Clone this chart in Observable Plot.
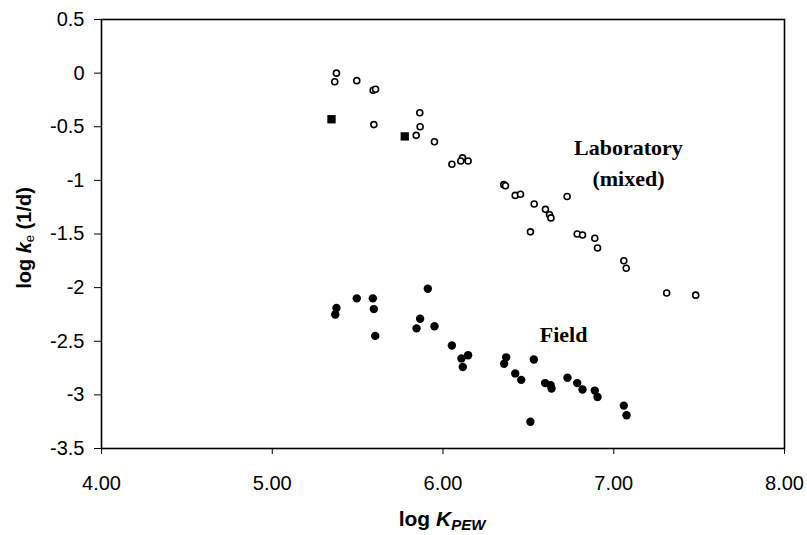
<!DOCTYPE html>
<html>
<head>
<meta charset="utf-8">
<script src="https://cdn.jsdelivr.net/npm/d3@7"></script>
<script src="https://cdn.jsdelivr.net/npm/@observablehq/plot@0.6"></script>
<style>
  html, body { margin: 0; padding: 0; background: #fff; }
  #chart svg { display: block; }
</style>
</head>
<body>
<div id="chart"></div>
<script>
// Laboratory (mixed) elimination rate constants: open circles
const labLogK = [5.376, 5.366, 5.495, 5.591, 5.605, 5.595, 5.864, 5.866, 5.843, 5.950,
                 6.052, 6.114, 6.104, 6.147, 6.356, 6.366, 6.423, 6.454, 6.534, 6.600,
                 6.624, 6.632, 6.727, 6.512, 6.786, 6.817, 6.889, 6.905, 7.059, 7.073,
                 7.31, 7.48];
const labLogKe = [0.00, -0.08, -0.07, -0.16, -0.15, -0.48, -0.37, -0.50, -0.58, -0.64,
                  -0.85, -0.79, -0.82, -0.82, -1.04, -1.05, -1.14, -1.13, -1.22, -1.27,
                  -1.32, -1.35, -1.15, -1.48, -1.50, -1.51, -1.54, -1.63, -1.75, -1.82,
                  -2.05, -2.07];

// Laboratory values drawn as filled squares
const squareLogK = [5.347, 5.776];
const squareLogKe = [-0.43, -0.59];

// Field elimination rate constants: filled circles
const fieldLogK = [5.376, 5.369, 5.495, 5.589, 5.595, 5.603, 5.911, 5.866, 5.845, 5.950,
                   6.052, 6.108, 6.147, 6.116, 6.370, 6.358, 6.532, 6.423, 6.458, 6.598,
                   6.630, 6.636, 6.512, 6.729, 6.786, 6.817, 6.889, 6.905, 7.059, 7.075];
const fieldLogKe = [-2.19, -2.25, -2.10, -2.10, -2.20, -2.45, -2.01, -2.29, -2.38, -2.36,
                    -2.54, -2.66, -2.63, -2.74, -2.65, -2.71, -2.67, -2.80, -2.86, -2.89,
                    -2.91, -2.94, -3.25, -2.84, -2.89, -2.95, -2.96, -3.02, -3.10, -3.19];

// Axis ticks and their labels
const xTicks = [4, 5, 6, 7, 8];
const xTickLabels = ["4.00", "5.00", "6.00", "7.00", "8.00"];
const yTicks = [0.5, 0, -0.5, -1, -1.5, -2, -2.5, -3, -3.5];
const yTickLabels = ["0.5", "0", "-0.5", "-1", "-1.5", "-2", "-2.5", "-3", "-3.5"];

// Group annotations
const groupLabels = [
  {x: 7.086, y: -0.82, text: "Laboratory\n(mixed)"},
  {x: 6.706, y: -2.41, text: "Field"}
];

const lab = labLogK.map((x, i) => ({x, y: labLogKe[i]}));
const squares = squareLogK.map((x, i) => ({x, y: squareLogKe[i]}));
const field = fieldLogK.map((x, i) => ({x, y: fieldLogKe[i]}));

const chart = Plot.plot({
  width: 807,
  height: 535,
  marginLeft: 101,
  marginRight: 23,
  marginTop: 19,
  marginBottom: 87,
  style: {
    fontFamily: "'Liberation Sans', Arial, sans-serif",
    fontSize: "20px",
    color: "#000",
    background: "#fff"
  },
  x: {domain: [4, 8]},
  y: {domain: [-3.5, 0.5]},
  marks: [
    Plot.axisX({
      ticks: xTicks,
      tickFormat: d => xTickLabels[xTicks.indexOf(d)],
      tickSize: 6,
      tickPadding: 21,
      label: null,
      fontSize: 20
    }),
    Plot.axisY({
      ticks: yTicks,
      tickFormat: d => yTickLabels[yTicks.indexOf(d)],
      tickSize: 7,
      tickPadding: 10,
      label: null,
      fontSize: 20
    }),
    Plot.frame({stroke: "#000", strokeWidth: 1.6}),
    Plot.dot(field, {x: "x", y: "y", r: 4.2, fill: "#000", stroke: "none"}),
    Plot.dot(lab, {x: "x", y: "y", r: 3.0, fill: "#fff", stroke: "#000", strokeWidth: 1.6}),
    Plot.dot(squares, {x: "x", y: "y", symbol: "square", r: 4.7, fill: "#000", stroke: "none"}),
    Plot.text(groupLabels, {
      x: "x", y: "y", text: "text",
      fontFamily: "'Liberation Serif', 'Times New Roman', serif",
      fontWeight: "bold",
      fontSize: 22,
      lineHeight: 1.41,
      lineAnchor: "middle",
      fill: "#000"
    })
  ]
});

// Axis titles with italic symbols and subscripts
const svg = d3.select(chart);
const xTitle = svg.append("text")
  .attr("x", 442).attr("y", 526)
  .attr("text-anchor", "middle")
  .attr("font-family", "'Liberation Sans', Arial, sans-serif")
  .attr("font-weight", "bold")
  .attr("font-size", 21)
  .attr("fill", "#000");
xTitle.append("tspan").text("log ");
xTitle.append("tspan").attr("font-style", "italic").text("K");
xTitle.append("tspan").attr("font-style", "italic").attr("font-size", 15).attr("dy", 4).text("PEW");

const yTitle = svg.append("text")
  .attr("transform", "translate(31,238) rotate(-90)")
  .attr("text-anchor", "middle")
  .attr("font-family", "'Liberation Sans', Arial, sans-serif")
  .attr("font-weight", "bold")
  .attr("font-size", 20)
  .attr("fill", "#000");
yTitle.append("tspan").text("log ");
yTitle.append("tspan").attr("font-style", "italic").text("k");
yTitle.append("tspan").attr("font-weight", "normal").attr("font-size", 13).attr("dy", 3).text("e");
yTitle.append("tspan").attr("dy", -3).text(" (1/d)");

document.getElementById("chart").appendChild(chart);
</script>
</body>
</html>
